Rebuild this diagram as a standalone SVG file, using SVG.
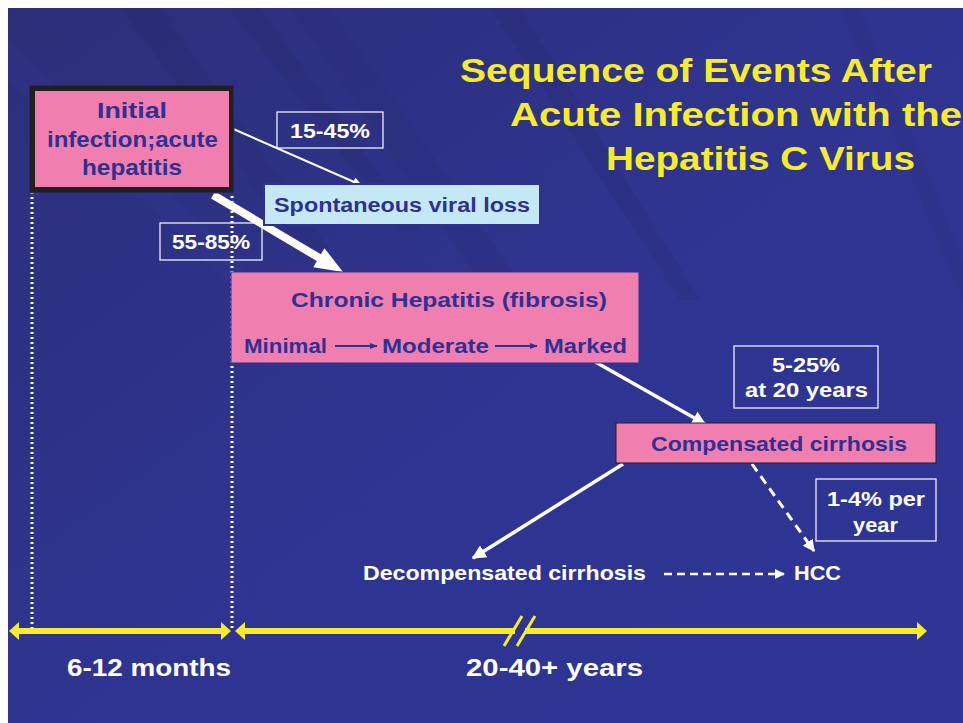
<svg xmlns="http://www.w3.org/2000/svg" width="963" height="723" viewBox="0 0 963 723">
<style>
.t{font-family:"Comic Sans MS","Liberation Sans",Arial,sans-serif;font-weight:bold}
.navy{fill:#2e3192}
.wt{fill:#ffffff}
.title{fill:#f7ec2b;font-size:34px}
.lbl{fill:none;stroke:#ffffff;stroke-width:1.2}
.pink{fill:#f07fb0}
</style>
<defs>
<linearGradient id="bg" x1="0" y1="0" x2="1" y2="1">
<stop offset="0" stop-color="#2c2f78"/>
<stop offset="0.5" stop-color="#2f3490"/>
<stop offset="1" stop-color="#2e3595"/>
</linearGradient>
<marker id="ah" viewBox="0 0 10 10" refX="9" refY="5" markerWidth="10" markerHeight="9" orient="auto" markerUnits="userSpaceOnUse">
<path d="M0,0 L10,5 L0,10 z" fill="#ffffff"/>
</marker>
<marker id="ahm" viewBox="0 0 10 10" refX="9" refY="5" markerWidth="4" markerHeight="4" orient="auto">
<path d="M0,0 L10,5 L0,10 z" fill="#ffffff"/>
</marker>
<marker id="ahn" viewBox="0 0 10 10" refX="9" refY="5" markerWidth="8" markerHeight="8" orient="auto" markerUnits="userSpaceOnUse">
<path d="M0,1 L10,5 L0,9 z" fill="#2e3192"/>
</marker>
</defs>
<rect x="0" y="0" width="963" height="723" fill="#ffffff"/>
<rect x="8" y="8" width="955" height="715" fill="url(#bg)"/>
<g opacity="0.15">
<polygon points="120,8 160,8 330,250 300,250" fill="#24245c"/>
<polygon points="230,8 260,8 420,230 400,230" fill="#24245c"/>
<polygon points="290,8 330,8 560,340 520,340" fill="#26266a"/>
<polygon points="490,8 520,8 700,300 680,300" fill="#24245c"/>
<polygon points="840,8 860,8 963,260 963,300" fill="#26266a"/>
<polygon points="8,40 8,80 250,300 240,260" fill="#3a3fa0"/>
</g>
<g id="title" class="t title">
<text x="460" y="82" textLength="472" lengthAdjust="spacingAndGlyphs">Sequence of Events After</text>
<text x="510" y="126" textLength="452" lengthAdjust="spacingAndGlyphs">Acute Infection with the</text>
<text x="606" y="170" textLength="309" lengthAdjust="spacingAndGlyphs">Hepatitis C Virus</text>
</g>
<g id="guides" stroke="#ffffff" stroke-width="3" stroke-dasharray="2,3" fill="none">
<line x1="32" y1="167" x2="32" y2="630"/>
<line x1="232" y1="186" x2="232" y2="630"/>
</g>
<g id="connectors">
<line x1="231" y1="128" x2="361" y2="185" stroke="#ffffff" stroke-width="2" marker-end="url(#ah)"/>
<polygon points="215,191.6 320.9,254.3 324.5,248.2 343,272 313.3,267.2 316.9,261.1 211,198.4" fill="#ffffff"/>
<line x1="592" y1="360" x2="705" y2="424" stroke="#ffffff" stroke-width="3.5" marker-end="url(#ahm)"/>
<line x1="623" y1="464" x2="473" y2="558" stroke="#ffffff" stroke-width="3.5" marker-end="url(#ahm)"/>
<line x1="752" y1="464" x2="814" y2="551" stroke="#ffffff" stroke-width="3" stroke-dasharray="9,6" marker-end="url(#ahm)"/>
<line x1="664" y1="574" x2="784" y2="574" stroke="#ffffff" stroke-width="2.5" stroke-dasharray="8,5" marker-end="url(#ahm)"/>
</g>
<g id="initial">
<rect x="29" y="85" width="205" height="108" fill="#221f20" stroke="#2e3192" stroke-width="1"/>
<rect x="35" y="91" width="194" height="96" class="pink"/>
<g class="t navy" font-size="22">
<text x="97" y="118" textLength="70" lengthAdjust="spacingAndGlyphs">Initial</text>
<text x="47" y="147" textLength="171" lengthAdjust="spacingAndGlyphs">infection;acute</text>
<text x="82" y="175" textLength="100" lengthAdjust="spacingAndGlyphs">hepatitis</text>
</g>
</g>
<g id="p1545">
<rect x="277" y="112" width="106" height="36" class="lbl"/>
<text x="290" y="138" class="t wt" font-size="20" textLength="80" lengthAdjust="spacingAndGlyphs">15-45%</text>
</g>
<g id="svl">
<rect x="264" y="184" width="276" height="41" fill="#c5e8f5" stroke="#2e3192" stroke-width="2"/>
<text x="402" y="212" class="t navy" font-size="20" text-anchor="middle" textLength="256" lengthAdjust="spacingAndGlyphs">Spontaneous viral loss</text>
</g>
<g id="p5585">
<rect x="160" y="223" width="102" height="37" class="lbl"/>
<text x="172" y="249" class="t wt" font-size="20" textLength="78" lengthAdjust="spacingAndGlyphs">55-85%</text>
</g>
<g id="chronic">
<rect x="231" y="272" width="408" height="91" class="pink" stroke="#2e3192" stroke-width="1"/>
<g class="t navy" font-size="21">
<text x="291" y="307" textLength="316" lengthAdjust="spacingAndGlyphs">Chronic Hepatitis (fibrosis)</text>
<text x="244" y="353" textLength="83" lengthAdjust="spacingAndGlyphs">Minimal</text>
<text x="382" y="353" textLength="107" lengthAdjust="spacingAndGlyphs">Moderate</text>
<text x="544" y="353" textLength="83" lengthAdjust="spacingAndGlyphs">Marked</text>
</g>
<line x1="335" y1="346" x2="377" y2="346" stroke="#2e3192" stroke-width="2" marker-end="url(#ahn)"/>
<line x1="495" y1="346" x2="537" y2="346" stroke="#2e3192" stroke-width="2" marker-end="url(#ahn)"/>
</g>
<g id="p525">
<rect x="734" y="346" width="144" height="62" class="lbl"/>
<g class="t wt" font-size="20">
<text x="772" y="372" textLength="68" lengthAdjust="spacingAndGlyphs">5-25%</text>
<text x="745" y="397" textLength="123" lengthAdjust="spacingAndGlyphs">at 20 years</text>
</g>
</g>
<g id="compensated">
<rect x="616" y="423" width="320" height="40" class="pink" stroke="#221f20" stroke-width="1"/>
<text x="779" y="451" class="t navy" font-size="21" text-anchor="middle" textLength="256" lengthAdjust="spacingAndGlyphs">Compensated cirrhosis</text>
</g>
<g id="p14">
<rect x="816" y="479" width="120" height="62" class="lbl"/>
<g class="t wt" font-size="20">
<text x="827" y="506" textLength="98" lengthAdjust="spacingAndGlyphs">1-4% per</text>
<text x="853" y="532" textLength="45" lengthAdjust="spacingAndGlyphs">year</text>
</g>
</g>
<g id="decompensated">
<text x="363" y="580" class="t wt" font-size="21" textLength="283" lengthAdjust="spacingAndGlyphs">Decompensated cirrhosis</text>
</g>
<g id="hcc">
<text x="794" y="580" class="t wt" font-size="21" textLength="47" lengthAdjust="spacingAndGlyphs">HCC</text>
</g>
<g id="timeline" fill="#f7ec2b">
<rect x="16" y="628" width="210" height="6"/>
<polygon points="9,631 19,622 19,640"/>
<polygon points="231,631 221,622 221,640"/>
<polygon points="235,631 245,622 245,640"/>
<rect x="240" y="628" width="678" height="6"/>
<polygon points="927,631 917,622 917,640"/>
<rect x="515" y="627" width="10" height="8" fill="#2f3490"/>
<line x1="504" y1="646" x2="522" y2="616" stroke="#f7ec2b" stroke-width="3"/>
<line x1="517" y1="646" x2="535" y2="616" stroke="#f7ec2b" stroke-width="3"/>
</g>
<g class="t wt" font-size="23">
<text x="67" y="676" textLength="164" lengthAdjust="spacingAndGlyphs">6-12 months</text>
<text x="466" y="676" textLength="177" lengthAdjust="spacingAndGlyphs">20-40+ years</text>
</g>
</svg>
